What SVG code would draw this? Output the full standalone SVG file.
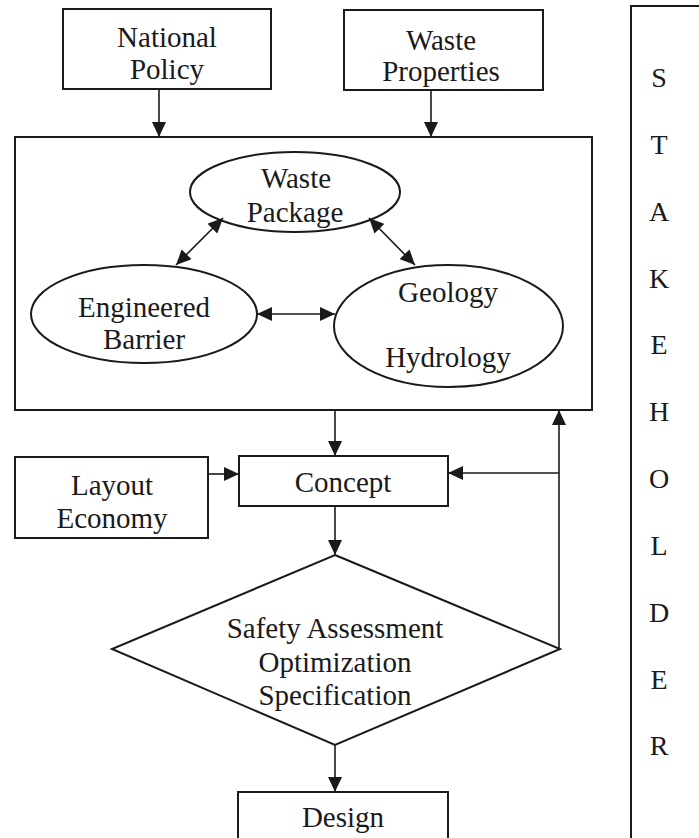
<svg xmlns="http://www.w3.org/2000/svg" width="699" height="838" viewBox="0 0 699 838">
<style>
.box{fill:none;stroke:#1a1a1a;stroke-width:2}
.ln{fill:none;stroke:#1a1a1a;stroke-width:1.6}
text{font-family:"Liberation Serif","Times New Roman",serif;font-size:29px;fill:#1a1a1a;text-anchor:middle}
.st{font-size:28px}
</style>
<defs>
<marker id="ah" viewBox="0 0 15 14" refX="15" refY="7" markerWidth="15" markerHeight="14" markerUnits="userSpaceOnUse" orient="auto-start-reverse">
<path d="M0,0 L15,7 L0,14 z" fill="#1a1a1a"/>
</marker>
</defs>
<rect width="699" height="838" fill="#fff"/>
<g id="national-policy">
<rect class="box" x="63" y="9" width="208" height="80"/>
<text x="167" y="47">National</text>
<text x="167" y="79">Policy</text>
</g>
<g id="waste-properties">
<rect class="box" x="344" y="10" width="199" height="80"/>
<text x="441" y="50">Waste</text>
<text x="441" y="81">Properties</text>
</g>
<g id="system">
<rect class="box" x="15" y="137" width="577" height="273"/>
</g>
<g id="waste-package">
<ellipse class="box" cx="295" cy="192" rx="105" ry="40"/>
<text x="296" y="188">Waste</text>
<text x="295" y="222">Package</text>
</g>
<g id="engineered-barrier">
<ellipse class="box" cx="144" cy="314" rx="113" ry="49"/>
<text x="144" y="317">Engineered</text>
<text x="144" y="349">Barrier</text>
</g>
<g id="geology-hydrology">
<ellipse class="box" cx="448.5" cy="326" rx="114.5" ry="61"/>
<text x="448" y="302">Geology</text>
<text x="448" y="367">Hydrology</text>
</g>
<g id="layout-economy">
<rect class="box" x="15" y="457" width="193" height="81"/>
<text x="112" y="495">Layout</text>
<text x="112" y="528">Economy</text>
</g>
<g id="concept">
<rect class="box" x="239" y="456" width="209" height="50"/>
<text x="343" y="492">Concept</text>
</g>
<g id="safety-assessment">
<polygon class="box" points="335,555 560,649 335,745 112,649"/>
<text x="335" y="638">Safety Assessment</text>
<text x="335" y="672">Optimization</text>
<text x="335" y="705">Specification</text>
</g>
<g id="design">
<rect class="box" x="238" y="792" width="210" height="60"/>
<text x="343" y="827">Design</text>
</g>
<g id="stakeholder">
<rect class="box" x="631" y="6" width="100" height="900"/>
<text class="st" x="659" y="87">S</text>
<text class="st" x="659" y="154">T</text>
<text class="st" x="659" y="221">A</text>
<text class="st" x="659" y="288">K</text>
<text class="st" x="659" y="354">E</text>
<text class="st" x="659" y="421">H</text>
<text class="st" x="659" y="488">O</text>
<text class="st" x="659" y="555">L</text>
<text class="st" x="659" y="622">D</text>
<text class="st" x="659" y="689">E</text>
<text class="st" x="659" y="755">R</text>
</g>
<g id="connectors">
<line class="ln" x1="159" y1="89" x2="159" y2="137" marker-end="url(#ah)"/>
<line class="ln" x1="431" y1="90" x2="431" y2="137" marker-end="url(#ah)"/>
<line class="ln" x1="223" y1="218" x2="176" y2="265" marker-start="url(#ah)" marker-end="url(#ah)"/>
<line class="ln" x1="369" y1="218" x2="415" y2="265" marker-start="url(#ah)" marker-end="url(#ah)"/>
<line class="ln" x1="257" y1="314" x2="335" y2="314" marker-start="url(#ah)" marker-end="url(#ah)"/>
<line class="ln" x1="335" y1="410" x2="335" y2="456" marker-end="url(#ah)"/>
<line class="ln" x1="208" y1="474" x2="239" y2="474" marker-end="url(#ah)"/>
<line class="ln" x1="335" y1="506" x2="335" y2="555" marker-end="url(#ah)"/>
<line class="ln" x1="559" y1="649" x2="559" y2="410" marker-end="url(#ah)"/>
<line class="ln" x1="559" y1="473" x2="448" y2="473" marker-end="url(#ah)"/>
<line class="ln" x1="335" y1="745" x2="335" y2="792" marker-end="url(#ah)"/>
</g>
</svg>
